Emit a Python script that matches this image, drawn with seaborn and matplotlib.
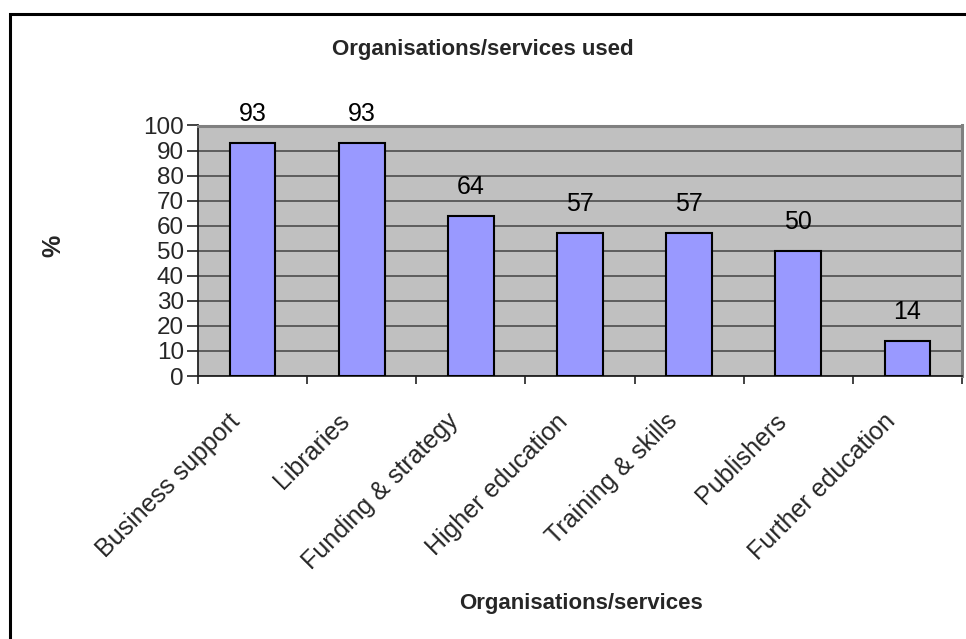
import matplotlib
matplotlib.use("Agg")
import matplotlib.pyplot as plt
import matplotlib.patches as mpatches
import matplotlib.transforms as mtransforms
from matplotlib.ticker import FixedLocator, MultipleLocator
import seaborn as sns
import pandas as pd

# Share of respondents using each organisation/service type (%)
categories = ["Business support", "Libraries", "Funding & strategy",
              "Higher education", "Training & skills", "Publishers",
              "Further education"]
values = [93, 93, 64, 57, 57, 50, 14]

df = pd.DataFrame({"service": categories, "pct": values})

sns.set_theme(style="white")
plt.rcParams["font.family"] = ["Liberation Sans", "DejaVu Sans"]

fig = plt.figure(figsize=(9.66, 6.39), dpi=100)
ax = fig.add_axes([198 / 966, 1 - 376 / 639, (962 - 198) / 966, (376 - 125.5) / 639])

ax.set_facecolor("#C0C0C0")
sns.barplot(data=df, x="service", y="pct", color="#9999FF", width=0.42,
            edgecolor="black", linewidth=1.5, saturation=1, ax=ax, zorder=3)

ax.set_ylim(0, 100)
ax.set_xlim(-0.5, len(categories) - 0.5)
ax.yaxis.set_major_locator(MultipleLocator(10))
ax.grid(axis="y", color="#555555", linewidth=1.3, zorder=1)
ax.grid(axis="x", visible=False)
ax.set_axisbelow(True)

# Value labels above each bar
for patch, v in zip(ax.patches, values):
    ax.annotate(f"{v}", (patch.get_x() + patch.get_width() / 2, v),
                xytext=(0, 21), textcoords="offset points",
                ha="center", va="center", fontsize=18, color="black")

# Spines: dark axis lines, grey plot-area border
for side in ("left", "bottom"):
    ax.spines[side].set_color("#222222")
    ax.spines[side].set_linewidth(1.3)
for side in ("top", "right"):
    ax.spines[side].set_color("#808080")
    ax.spines[side].set_linewidth(2.2)

ax.tick_params(axis="y", which="major", direction="out", length=8, width=1.2,
               color="#222222", labelsize=17.5, pad=2, left=True)

# Category tick marks sit on the boundaries between bars
ax.xaxis.set_minor_locator(FixedLocator([i - 0.5 for i in range(len(categories) + 1)]))
ax.tick_params(axis="x", which="minor", direction="out", length=6, width=1.2,
               color="#222222", bottom=True)
ax.tick_params(axis="x", which="major", length=0, labelsize=18, pad=30)
ax.set_xticks(range(len(categories)))
ax.set_xticklabels(categories, rotation=45, ha="right", va="center",
                   rotation_mode="anchor")
shift = mtransforms.ScaledTranslation(-16 / 100, 0, fig.dpi_scale_trans)
for lbl in ax.get_xticklabels():
    lbl.set_transform(lbl.get_transform() + shift)

ax.set_xlabel("")
ax.set_ylabel("")

fig.text(0.5, 1 - 50 / 639, "Organisations/services used", ha="center",
         va="center", fontsize=16, fontweight="bold")
fig.text(581 / 966, 1 - 604 / 639, "Organisations/services", ha="center",
         va="center", fontsize=16, fontweight="bold")
fig.text(53 / 966, 1 - 246 / 639, "%", ha="center", va="center",
         rotation=90, fontsize=18, fontweight="bold")

# Chart-area frame
fig.patches.append(mpatches.Rectangle((10 / 966, -0.1), 1.2, 1.1 - 14 / 639,
                                      transform=fig.transFigure, fill=False,
                                      edgecolor="black", linewidth=2.2))

fig.savefig("out.png", dpi=100, facecolor="white")
